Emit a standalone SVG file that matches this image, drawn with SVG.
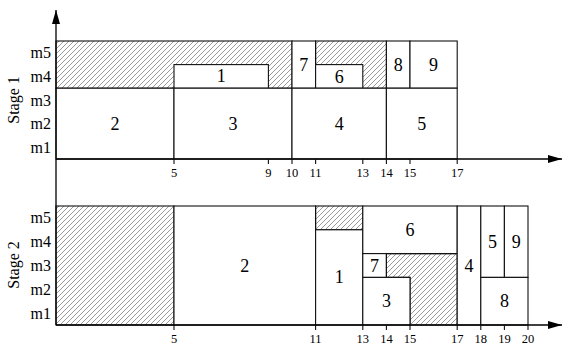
<svg xmlns="http://www.w3.org/2000/svg" width="563" height="345" viewBox="0 0 563 345">
<style>
.box{fill:#fff;stroke:#111;stroke-width:1.1}
.hatch{fill:url(#hp);stroke:#111;stroke-width:1.1}
.ax{stroke:#000;stroke-width:1.3;fill:none}
.tk{stroke:#111;stroke-width:1.1}
text{font-family:'Liberation Serif','Times New Roman','DejaVu Serif',serif;fill:#000}
.num{font-size:18px;text-anchor:middle;dominant-baseline:central}
.m{font-size:16px;text-anchor:end;dominant-baseline:central}
.t{font-size:12.5px;text-anchor:middle}
.st{font-size:16px;text-anchor:middle}
</style>
<defs>
<pattern id="hp" patternUnits="userSpaceOnUse" width="5" height="5">
<path d="M-1,1 L1,-1 M0,5 L5,0 M4,6 L6,4" stroke="#555" stroke-width="0.6"/>
</pattern>
<marker id="ah" markerWidth="14" markerHeight="8" refX="14" refY="4" orient="auto" markerUnits="userSpaceOnUse">
<path d="M0,0 L14,4 L0,8 z" fill="#000"/>
</marker>
</defs>
<rect width="563" height="345" fill="#fff"/>

<g font-family="Liberation Serif, Times New Roman, DejaVu Serif, serif">
<!-- Stage 1 -->
<g id="s1-idle-a"><rect class="hatch" x="56" y="41" width="236" height="47.2"/></g>
<g id="s1-j1"><rect class="box" x="174" y="64.6" width="94.4" height="23.6"/><text class="num" x="221.2" y="76.4">1</text></g>
<g id="s1-j2"><rect class="box" x="56" y="88.2" width="118" height="70.8"/><text class="num" x="115" y="123.6">2</text></g>
<g id="s1-j3"><rect class="box" x="174" y="88.2" width="118" height="70.8"/><text class="num" x="233" y="123.6">3</text></g>
<g id="s1-j7"><rect class="box" x="292" y="41" width="23.6" height="47.2"/><text class="num" x="303.8" y="64.6">7</text></g>
<g id="s1-idle-b"><rect class="hatch" x="315.6" y="41" width="70.8" height="47.2"/></g>
<g id="s1-j6"><rect class="box" x="315.6" y="64.6" width="47.2" height="23.6"/><text class="num" x="339.2" y="77">6</text></g>
<g id="s1-j4"><rect class="box" x="292" y="88.2" width="94.4" height="70.8"/><text class="num" x="339.2" y="123.6">4</text></g>
<g id="s1-j8"><rect class="box" x="386.4" y="41" width="23.6" height="47.2"/><text class="num" x="398.2" y="64.6">8</text></g>
<g id="s1-j9"><rect class="box" x="410" y="41" width="47.2" height="47.2"/><text class="num" x="433.6" y="64.6">9</text></g>
<g id="s1-j5"><rect class="box" x="386.4" y="88.2" width="70.8" height="70.8"/><text class="num" x="421.8" y="123.6">5</text></g>

<g id="s1-labels">
<text class="m" x="51" y="52.8">m5</text>
<text class="m" x="51" y="76.4">m4</text>
<text class="m" x="51" y="100">m3</text>
<text class="m" x="51" y="123.6">m2</text>
<text class="m" x="51" y="147.2">m1</text>
<text class="st" transform="translate(19,100) rotate(-90)">Stage 1</text>
<text class="t" x="174" y="177">5</text>
<text class="t" x="268.4" y="177">9</text>
<text class="t" x="292" y="177">10</text>
<text class="t" x="315.6" y="177">11</text>
<text class="t" x="362.8" y="177">13</text>
<text class="t" x="386.4" y="177">14</text>
<text class="t" x="410" y="177">15</text>
<text class="t" x="457.2" y="177">17</text>
</g>

<!-- Stage 2 -->
<g id="s2-idle-a"><rect class="hatch" x="56" y="206" width="118" height="119"/></g>
<g id="s2-j2"><rect class="box" x="174" y="206" width="141.6" height="119"/><text class="num" x="244.8" y="265.5">2</text></g>
<g id="s2-idle-b"><rect class="hatch" x="315.6" y="206" width="47.2" height="23.8"/></g>
<g id="s2-j1"><rect class="box" x="315.6" y="229.8" width="47.2" height="95.2"/><text class="num" x="339.2" y="277.4">1</text></g>
<g id="s2-j6"><rect class="box" x="362.8" y="206" width="94.4" height="47.6"/><text class="num" x="410" y="229.8">6</text></g>
<g id="s2-j7"><rect class="box" x="362.8" y="253.6" width="23.6" height="23.8"/><text class="num" x="374.6" y="265.5">7</text></g>
<g id="s2-idle-c"><polygon class="hatch" points="386.4,253.6 457.2,253.6 457.2,325 410,325 410,277.4 386.4,277.4"/></g>
<g id="s2-j3"><rect class="box" x="362.8" y="277.4" width="47.2" height="47.6"/><text class="num" x="386.4" y="301.2">3</text></g>
<g id="s2-j4"><rect class="box" x="457.2" y="206" width="23.6" height="119"/><text class="num" x="469" y="265.5">4</text></g>
<g id="s2-j5"><rect class="box" x="480.8" y="206" width="23.6" height="71.4"/><text class="num" x="492.6" y="241.7">5</text></g>
<g id="s2-j9"><rect class="box" x="504.4" y="206" width="23.6" height="71.4"/><text class="num" x="516.2" y="241.7">9</text></g>
<g id="s2-j8"><rect class="box" x="480.8" y="277.4" width="47.2" height="47.6"/><text class="num" x="504.4" y="301.2">8</text></g>

<g id="s2-labels">
<text class="m" x="51" y="217.9">m5</text>
<text class="m" x="51" y="241.7">m4</text>
<text class="m" x="51" y="265.5">m3</text>
<text class="m" x="51" y="289.3">m2</text>
<text class="m" x="51" y="313.1">m1</text>
<text class="st" transform="translate(19,265) rotate(-90)">Stage 2</text>
<text class="t" x="174" y="343">5</text>
<text class="t" x="315.6" y="343">11</text>
<text class="t" x="362.8" y="343">13</text>
<text class="t" x="386.4" y="343">14</text>
<text class="t" x="410" y="343">15</text>
<text class="t" x="457.2" y="343">17</text>
<text class="t" x="480.8" y="343">18</text>
<text class="t" x="504.4" y="343">19</text>
<text class="t" x="528" y="343">20</text>
</g>
</g>

<g id="connectors">
<line class="ax" x1="56" y1="325" x2="56" y2="10" marker-end="url(#ah)"/>
<line class="ax" x1="56" y1="159" x2="562" y2="159" marker-end="url(#ah)"/>
<line class="ax" x1="56" y1="325" x2="562" y2="325" marker-end="url(#ah)"/>
<path class="tk" d="M174,159v5 M268.4,159v5 M292,159v5 M315.6,159v5 M362.8,159v5 M386.4,159v5 M410,159v5 M457.2,159v5"/>
<path class="tk" d="M174,325v5 M315.6,325v5 M362.8,325v5 M386.4,325v5 M410,325v5 M457.2,325v5 M480.8,325v5 M504.4,325v5 M528,325v5"/>
</g>
</svg>
